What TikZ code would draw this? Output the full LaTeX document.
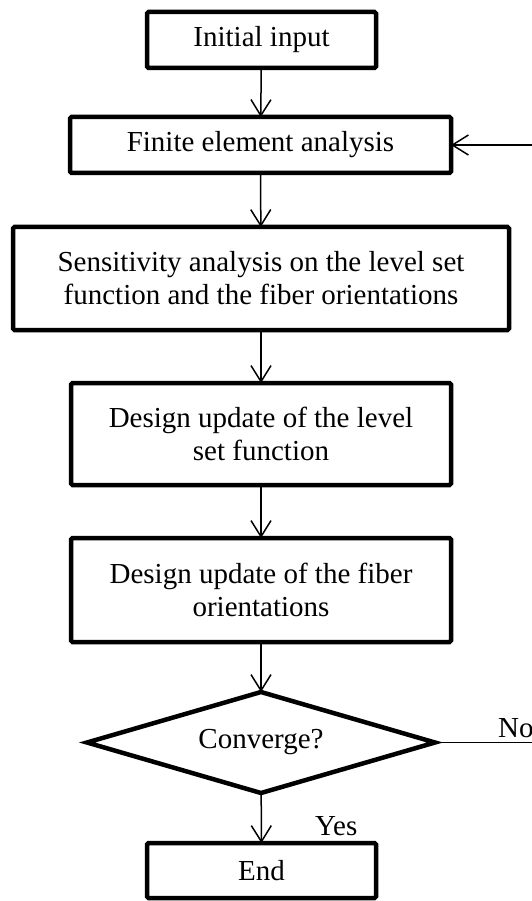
\documentclass[tikz,border=0pt]{standalone}
\usepackage{fontspec}
\setmainfont{Liberation Serif}
\usetikzlibrary{arrows.meta,shapes.geometric}
\begin{document}
\begin{tikzpicture}[x=1pt,y=-1pt,
 box/.style={draw, line width=4.5pt, rounded corners=1.5pt, align=center, font=\fontsize{29}{33}\selectfont, inner sep=0pt, outer sep=0pt},
 arr/.style={line width=1.5pt, -{Straight Barb[length=16pt,width=20pt]}},
 ln/.style={line width=1.5pt},
 lbl/.style={font=\fontsize{29}{33}\selectfont, inner sep=0pt}]
\useasboundingbox (0,0) rectangle (532,901);
\node[box, minimum width=229pt, minimum height=56pt] (init) at (261.5,40) {Initial input};
\node[box, minimum width=381pt, minimum height=56pt] (fea) at (260.5,145) {Finite element analysis};
\node[box, minimum width=496pt, minimum height=103pt] (sens) at (261,278.5) {Sensitivity analysis on the level set\\function and the fiber orientations};
\node[box, minimum width=380pt, minimum height=102pt] (dul) at (261,434) {Design update of the level\\set function};
\node[box, minimum width=380pt, minimum height=104pt] (duf) at (261,590) {Design update of the fiber\\orientations};
\node[draw, line width=4.5pt, shape=diamond, aspect=3.45, minimum width=348pt, minimum height=101pt, inner sep=0pt, outer sep=0pt, font=\fontsize{29}{33}\selectfont] (conv) at (261,742.5) {Converge?};
\node[box, minimum width=229pt, minimum height=55pt] (end) at (261.5,870.5) {End};
\node[lbl, anchor=base west] (yes) at (315,835) {Yes};
\node[lbl, anchor=base west] (no) at (498,737) {No};
\coordinate (fbin) at (532,145);
\coordinate (noout) at (532,742.5);
\draw[arr] (init) -- (fea);
\draw[arr] (fea) -- (sens);
\draw[arr] (sens) -- (dul);
\draw[arr] (dul) -- (duf);
\draw[arr] (duf) -- (conv);
\draw[arr] (conv) -- (end);
\draw[ln] (conv.east) -- (noout);
\draw[arr] (fbin) -- (fea.east);
\end{tikzpicture}
\end{document}
